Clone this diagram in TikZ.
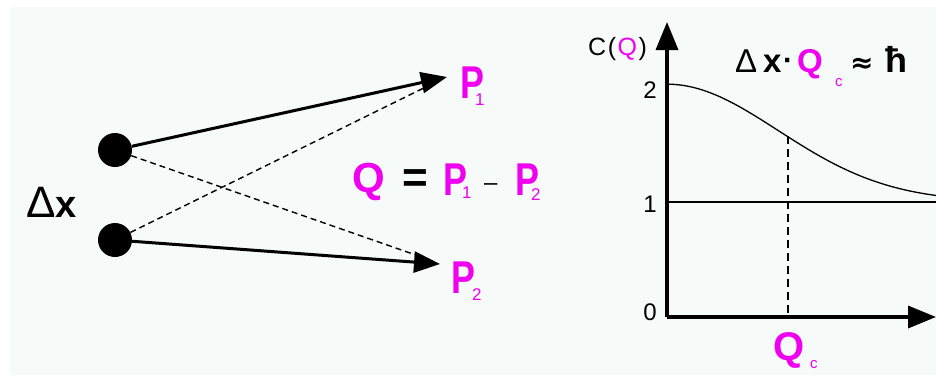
\documentclass[tikz,border=0pt]{standalone}
\usepackage{fontspec}
\setmainfont{Liberation Sans}
\newfontfamily\dvs{DejaVu Sans}
\usetikzlibrary{arrows.meta}
\definecolor{mag}{RGB}{240,0,240}
\definecolor{bg}{RGB}{246,250,248}
\tikzset{
  every node/.style={inner sep=0pt, anchor=base west},
  bigp/.style={font=\fontsize{46}{46}\selectfont\bfseries, text=mag},
  bigq/.style={font=\fontsize{42}{42}\selectfont\bfseries, text=mag},
  subn/.style={font=\fontsize{17}{17}\selectfont, text=mag},
  subc/.style={font=\fontsize{15}{15}\selectfont, text=mag},
  ttl/.style={font=\fontsize{33}{33}\selectfont\bfseries},
  lite/.style={font=\fontsize{24}{24}\selectfont, anchor=center},
  dotn/.style={circle, fill=black, minimum size=34pt, anchor=center},
  ray/.style={line width=3pt, -{Triangle[length=26pt,width=21pt]}},
  dray/.style={line width=1.4pt, dash pattern=on 6pt off 4pt},
  axis/.style={line width=3.5pt, -{Triangle[length=28pt,width=22pt]}},
}
\newcommand{\narrowP}{\scalebox{0.78}[1]{P}}
\begin{document}
\begin{tikzpicture}[x=1pt,y=-1pt]
\useasboundingbox (0,0) rectangle (936,375);
\fill[bg] (10,7) rectangle (936,375);

% left part
\node[dotn] (d1) at (115,150) {};
\node[dotn] (d2) at (115,240) {};
\coordinate (t1) at (447,77);
\coordinate (t2) at (440,264);
\draw[dray] (d1) -- (433,261);
\draw[dray] (d2) -- (440,80);
\draw[ray] (d1) -- (t1);
\draw[ray] (d2) -- (t2);

\node[font=\fontsize{44}{44}\selectfont] (dd) at (26,217) {Δ};
\node[font=\fontsize{38}{38}\selectfont\bfseries] (dxx) at (55,217) {x};

\node[bigp] (p1) at (460,98) {\narrowP};
\node[subn] (p1s) at (475,105) {1};
\node[bigp] (p2) at (451,293) {\narrowP};
\node[subn] (p2s) at (472,300) {2};

% equation
\node[bigq] (eqq) at (352,192) {Q};
\node[font=\fontsize{44}{44}\selectfont\bfseries] (eqs) at (402,192) {=};
\node[bigp] (eqp1) at (443,195) {\narrowP};
\node[subn] (eqp1s) at (462,198) {1};
\node[font=\fontsize{24}{24}\selectfont] (eqm) at (484,190) {–};
\node[bigp] (eqp2) at (515,195) {\narrowP};
\node[subn] (eqp2s) at (531,200) {2};

% graph
\coordinate (o) at (667,317);
\coordinate (ytop) at (667,22);
\coordinate (xend) at (936,317);
\coordinate (h1) at (667,201.7);
\coordinate (h2) at (936,201.7);
\coordinate (qc) at (788,136.2);
\coordinate (qcb) at (788,317);
\draw[line width=2pt] (h1) -- (h2);
\draw[line width=1.5pt, dash pattern=on 8pt off 5pt] (qc) -- (qcb);
\draw[line width=1.3pt] plot[domain=0:269, samples=80, smooth] ({667+\x}, {201.7-117.5*exp(-(\x/157)^2)});
\draw[axis] (o) -- (ytop);
\draw[axis] (o) -- (xend);

\node[lite] (l2) at (650,90) {2};
\node[lite] (l1) at (650,204) {1};
\node[lite] (l0) at (650,312) {0};
\node[font=\fontsize{25}{25}\selectfont] (cq) at (588,55) {C\kern1.5pt(\kern1.5pt\textcolor{mag}{Q}\kern1.5pt)};

\node[bigq, font=\fontsize{40}{40}\selectfont\bfseries] (qlab) at (773,360) {Q};
\node[subc] (qlabs) at (810,368) {c};

% title
\node[font=\fontsize{33}{33}\selectfont] (td) at (735,72) {Δ};
\node[ttl] (tx) at (763,72) {x};
\node[font=\fontsize{30}{30}\selectfont\bfseries] (tdot) at (783,70) {·};
\node[ttl, text=mag] (tq) at (797,72) {Q};
\node[subc] (tqs) at (835,86) {c};
\node[font=\dvs\fontsize{28}{28}\selectfont\bfseries] (tapprox) at (850,72) {≈};
\node[font=\fontsize{36}{36}\selectfont\bfseries] (thbar) at (885,72) {ħ};
\end{tikzpicture}
\end{document}
